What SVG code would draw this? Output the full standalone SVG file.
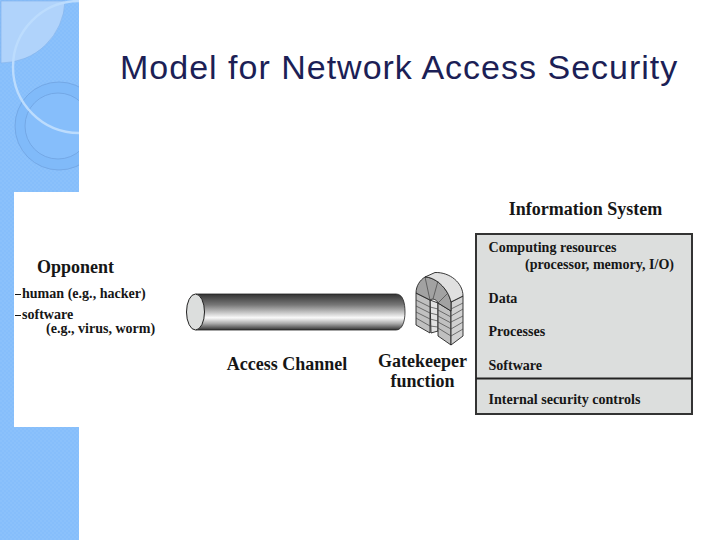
<svg xmlns="http://www.w3.org/2000/svg" width="720" height="540" viewBox="0 0 720 540">
<style>
.t{font-family:"Liberation Serif","Times New Roman",serif;font-weight:bold;font-size:14.05px;fill:#161616}
.h{font-size:18px}
.c{font-size:18px;text-anchor:middle}
.g{stroke:#444;stroke-width:.7;fill:none}
.o{stroke:#222;stroke-width:.9}
</style>
<defs>
<linearGradient id="tube" x1="0" y1="0" x2="0" y2="1">
<stop offset="0" stop-color="#333"/><stop offset=".3" stop-color="#777"/><stop offset=".66" stop-color="#fafafa"/><stop offset=".82" stop-color="#aaa"/><stop offset="1" stop-color="#333"/>
</linearGradient>
<pattern id="dither" width="4" height="4" patternUnits="userSpaceOnUse">
<rect width="4" height="4" fill="#86befb"/><rect width="2" height="2" fill="#8bc1fb"/><rect x="2" y="2" width="2" height="2" fill="#8bc1fb"/>
</pattern>
<clipPath id="band"><rect x="0" y="0" width="79" height="192"/></clipPath>
</defs>
<rect width="720" height="540" fill="#fff"/>
<g id="background">
<rect x="0" y="0" width="79" height="540" fill="url(#dither)"/>
<g clip-path="url(#band)">
<path d="M1 1H65A64 64 0 0 1 1 63Z" fill="#b0d3fb" stroke="#7fb0ea" stroke-width=".6"/>
<circle cx="59" cy="126" r="44" fill="#80baf9" stroke="#6d9fdc" stroke-width=".7"/>
<circle cx="58" cy="126" r="33" fill="#86befb" stroke="#6d9fdc" stroke-width=".7"/>
<circle cx="79" cy="67" r="66" fill="none" stroke="#bcdcfd" stroke-width="2.400"/>
</g>
<rect x="14" y="192" width="65" height="235" fill="#fff"/>
</g>
<text id="title" x="120" y="79" font-family="'Liberation Sans',Arial,sans-serif" font-size="34" letter-spacing="1" fill="#1c1f56">Model for Network Access Security</text>
<g id="opponent">
<text class="t h" x="37" y="273">Opponent</text>
<path d="M15 294.500H21M15 315.500H21" stroke="#161616" stroke-width="1.200"/>
<text class="t" x="22" y="298">human (e.g., hacker)</text>
<text class="t" x="22" y="319">software</text>
<text class="t" x="46" y="333">(e.g., virus, worm)</text>
</g>
<g id="channel">
<path d="M196 294H396C403 294 405 303 405 312C405 322 402 330 396 330H196Z" fill="url(#tube)" stroke="#222" stroke-width=".8"/>
<ellipse cx="195.500" cy="312" rx="9" ry="18" fill="#dcdedd" stroke="#222" stroke-width="1"/>
<text class="t c" x="287" y="370">Access Channel</text>
</g>
<g id="gatekeeper">
<path d="M430 300L438 303V331L431 333Z" fill="#e2e2e2" class="o"/>
<path d="M416 293L430 300V333L416 325Z" fill="#c0c0c0" class="o"/>
<path d="M438 303L451 311V345L438 336Z" fill="#c0c0c0" class="o"/>
<path d="M451 302L463 296V336L451 345Z" fill="#d2d2d2" class="o"/>
<path d="M416 293C416 286 420 280 425 277C435 277 448 288 451 302V311L438 303C437 300 433 298 430 300Z" fill="#a2a2a2" class="o"/>
<path d="M425 277L435 272.500C450 272 463 283 463 296L451 302C448 288 435 277 425 277Z" fill="#e0e0e0" class="o"/>
<path d="M430 300L425 277M433 299L438 281M438 303L448 293" class="g"/>
<path d="M416 300L430 307M416 306L430 313M416 312L430 319M416 318L430 326M430 307L438 309M430 313L438 315M430 319L438 321M430 326L438 327M438 310L451 317M438 316L451 323M438 322L451 329M438 328L451 336M451 309L463 303M451 316L463 309M451 322L463 316M451 329L463 322M451 336L463 329" class="g"/>
<text class="t c" x="422.500" y="366.500">Gatekeeper</text>
<text class="t c" x="422.500" y="386.500">function</text>
</g>
<g id="system">
<text class="t h" x="585.500" y="215" text-anchor="middle">Information System</text>
<rect x="476" y="234" width="216" height="180" fill="#dcdedd" stroke="#333" stroke-width="2"/>
<path d="M476 378.500H692" stroke="#222" stroke-width="2"/>
<text class="t" x="488.500" y="252">Computing resources</text>
<text class="t" x="525" y="269">(processor, memory, I/O)</text>
<text class="t" x="488.500" y="303">Data</text>
<text class="t" x="488.500" y="336">Processes</text>
<text class="t" x="488.500" y="370">Software</text>
<text class="t" x="488.500" y="404">Internal security controls</text>
</g>
</svg>
